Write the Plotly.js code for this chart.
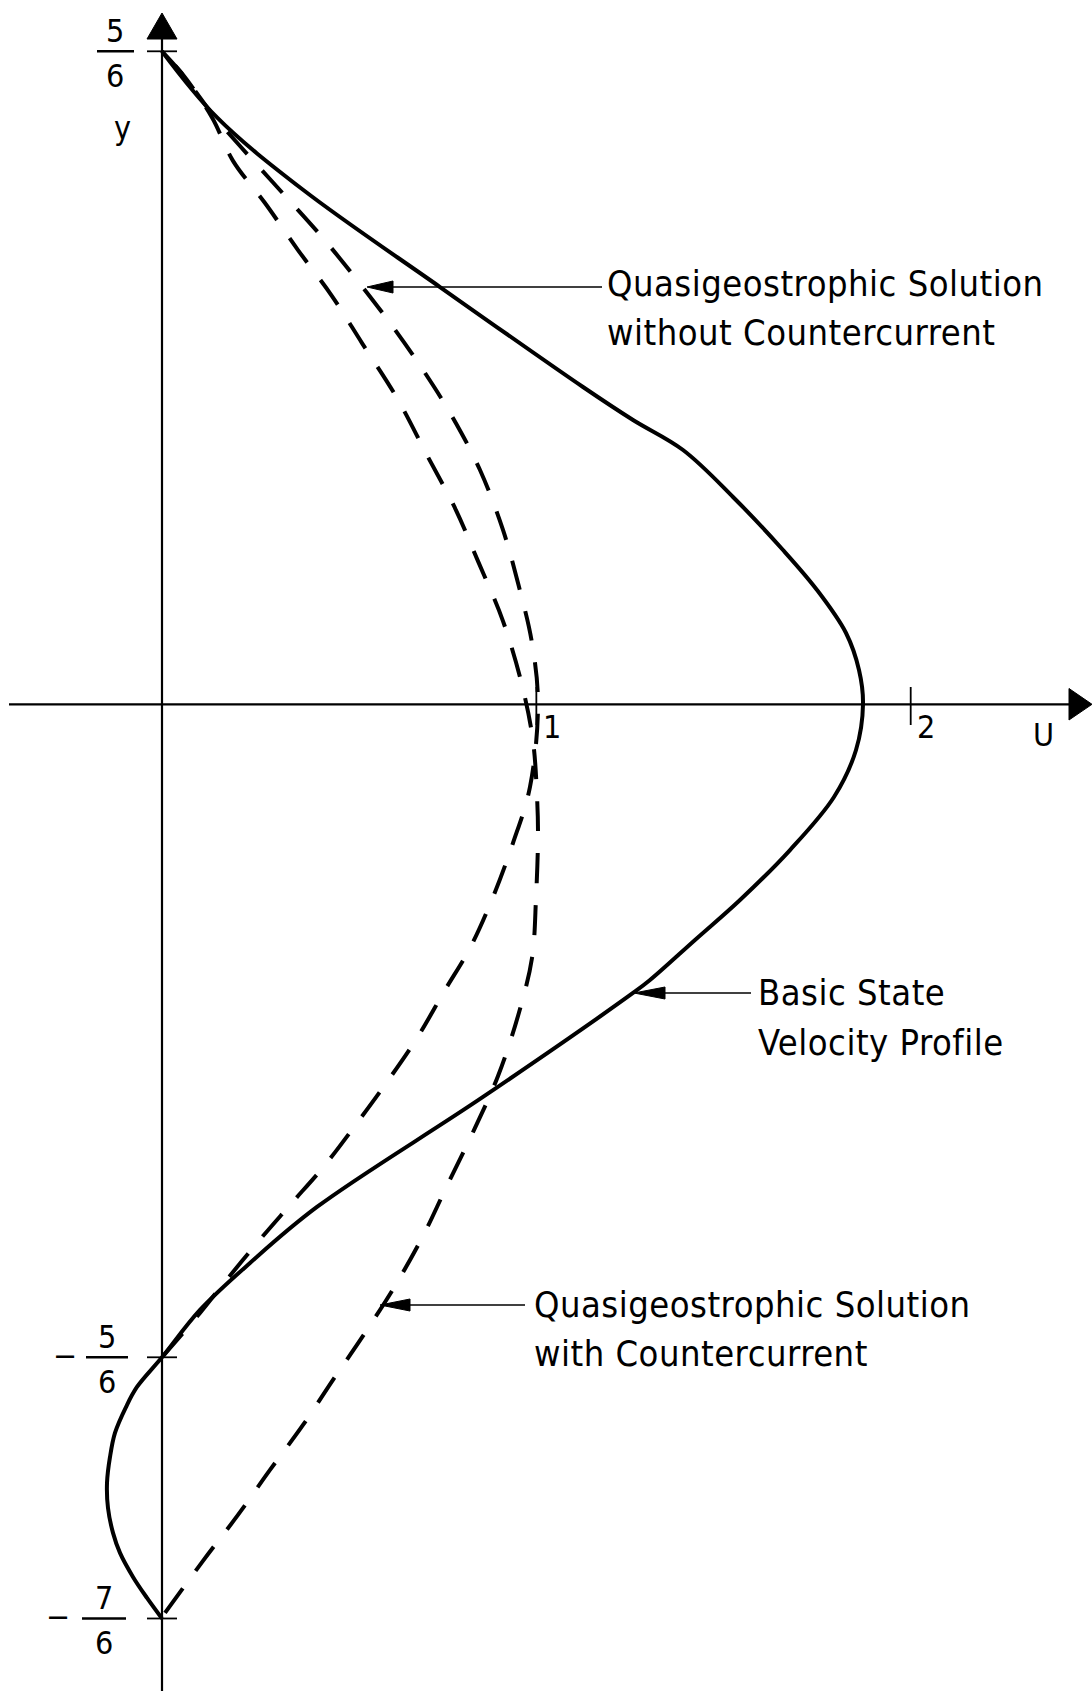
<!DOCTYPE html>
<html>
<head>
<meta charset="utf-8">
<script src="https://cdn.plot.ly/plotly-3.0.1.min.js"></script>
<style>
  html, body { margin: 0; padding: 0; background: #ffffff; }
  #chart { width: 1092px; height: 1691px; }
  .annotation-text { letter-spacing: 0.5px; }
</style>
</head>
<body>
<div id="chart"></div>
<script>
// Basic state velocity profile U(y)
const basicU = [0, 0.1469, 0.3767, 0.7426, 1.1246, 1.2582, 1.3918, 1.5253, 1.6589, 1.7497, 1.8272, 1.8619,
                1.8726, 1.8539, 1.7951, 1.6776, 1.5440, 1.4238, 1.3036, 1.2582, 0.8575, 0.4140, 0.2351, 0.1015,
                0, -0.0668, -0.0962, -0.1256, -0.1389, -0.1469, -0.1443, -0.1309, -0.1122, -0.0775, -0.0401, 0];
const basicY = [0.8333, 0.7489, 0.6566, 0.5325, 0.4049, 0.3628, 0.3245, 0.2646, 0.1969, 0.1459, 0.0910, 0.0438,
                0, -0.0583, -0.1183, -0.1860, -0.2498, -0.3008, -0.3519, -0.3684, -0.5011, -0.6415, -0.7130, -0.7729,
                -0.8333, -0.8712, -0.8968, -0.9298, -0.9605, -0.9936, -1.0255, -1.0574, -1.0830, -1.1136, -1.1404, -1.1667];

// Quasigeostrophic solution without countercurrent
const noCounterU = [0, 0.0561, 0.1416, 0.2084, 0.3099, 0.4274, 0.5209, 0.6091, 0.7026, 0.7773, 0.8495, 0.9109,
                    0.9510, 0.9884, 1.0044, 0.9830, 0.9376, 0.8842, 0.8228, 0.7560, 0.6812, 0.6010, 0.5209,
                    0.4354, 0.3419, 0.2538, 0.1549, 0.1015, 0];
const noCounterY = [0.8333, 0.8033, 0.7489, 0.7125, 0.6589, 0.5964, 0.5415, 0.4866, 0.4228, 0.3654, 0.2990, 0.2225,
                    0.1548, 0.0782, 0, -0.1055, -0.1770, -0.2459, -0.3110, -0.3646, -0.4259, -0.4820, -0.5344,
                    -0.5880, -0.6390, -0.6875, -0.7449, -0.7768, -0.8333];

// Quasigeostrophic solution with countercurrent
const counterU = [0, 0.0561, 0.1336, 0.1897, 0.2751, 0.3633, 0.4541, 0.5343, 0.6278, 0.7079, 0.7827, 0.8441,
                  0.9109, 0.9617, 0.9911, 1.0017, 1.0044, 0.9991, 0.9884, 0.9510, 0.8976, 0.8361, 0.7560, 0.6972,
                  0.6224, 0.5369, 0.4568, 0.3767, 0.2885, 0.2030, 0.1095, 0.0080];
const counterY = [0.8333, 0.8033, 0.7489, 0.6935, 0.6397, 0.5797, 0.5210, 0.4610, 0.3908, 0.3180, 0.2504, 0.1827,
                  0.1062, 0.0245, -0.0470, -0.1169, -0.1667, -0.2471, -0.3237, -0.3977, -0.4743, -0.5406, -0.6198,
                  -0.6785, -0.7423, -0.8061, -0.8622, -0.9197, -0.9771, -1.0345, -1.0932, -1.1596];

// Axis ticks and their labels
const uTicks = [1, 2];
const uTickText = ['1', '2'];
const yTicks = [5 / 6, -5 / 6, -7 / 6];
const yTickSign = ['', '\u2212', '\u2212'];
const yTickNum = ['5', '5', '7'];
const yTickDen = ['6', '6', '6'];

// Curve captions
const captionsNoCounter = ['Quasigeostrophic Solution', 'without Countercurrent'];
const captionsBasic = ['Basic State', 'Velocity Profile'];
const captionsCounter = ['Quasigeostrophic Solution', 'with Countercurrent'];

// ---- page geometry ----
const W = 1092, H = 1691;
const xRange = [-0.43275, 2.48431];
const yRange = [-1.2592, 0.8988];
const pxU = W / (xRange[1] - xRange[0]);
const pxY = H / (yRange[1] - yRange[0]);
const xAt = px => xRange[0] + px / pxU;   // page pixel -> U
const yAt = py => yRange[1] - py / pxY;   // page pixel -> y

const INK = '#000000';
const textFamily = '"DejaVu Sans Condensed", "DejaVu Sans", sans-serif';
const captionFont = { family: textFamily, size: 36, color: INK };
const tickFont = { family: textFamily, size: 32, color: INK };
const curveLine = { color: INK, width: 4, shape: 'spline', smoothing: 1 };
const dashedLine = Object.assign({}, curveLine, { dash: '30px,22px' });

const traces = [
  { x: basicU, y: basicY, mode: 'lines', line: curveLine, hoverinfo: 'skip' },
  { x: noCounterU, y: noCounterY, mode: 'lines', line: dashedLine, hoverinfo: 'skip' },
  // drawn from its lower end so the dash pattern starts with a full dash at the axis
  { x: counterU.slice().reverse(), y: counterY.slice().reverse(), mode: 'lines', line: dashedLine, hoverinfo: 'skip' }
];

const shapes = [];
const annotations = [];
const line = (x0, y0, x1, y1, w) => shapes.push({ type: 'line', xref: 'x', yref: 'y', x0, y0, x1, y1, line: { color: INK, width: w } });
const tri = (pts) => shapes.push({
  type: 'path', xref: 'x', yref: 'y',
  path: 'M' + pts.map(p => p[0] + ',' + p[1]).join(' L') + ' Z',
  fillcolor: INK, line: { color: INK, width: 1 }
});

// U axis with arrow
line(xAt(9), 0, xAt(1070), 0, 2.2);
tri([[xAt(1069), yAt(688.5)], [xAt(1092), 0], [xAt(1069), yAt(720)]]);
// y axis with arrow
line(0, yRange[0], 0, yAt(38), 2.2);
tri([[xAt(147), yAt(39)], [0, yAt(13)], [xAt(177), yAt(39)]]);

// U ticks
uTicks.forEach((u, i) => {
  line(u, yAt(687), u, yAt(725), 1.8);
  annotations.push({ x: u, y: 0, xref: 'x', yref: 'y', text: uTickText[i], showarrow: false,
    xanchor: 'center', yanchor: 'middle', xshift: 16, yshift: -23, font: tickFont });
});

// y ticks with fraction labels
const fracCenter = [115.5, 107, 104];
const fracHalf = [18.5, 21, 22];
const signCenter = [0, 65.5, 58];
yTicks.forEach((v, i) => {
  line(xAt(147), v, xAt(177), v, 1.8);
  line(xAt(fracCenter[i] - fracHalf[i]), v, xAt(fracCenter[i] + fracHalf[i]), v, 2.6);
  annotations.push({ x: xAt(fracCenter[i]), y: v, xref: 'x', yref: 'y', text: yTickNum[i], showarrow: false,
    xanchor: 'center', yanchor: 'middle', yshift: 20, font: tickFont });
  annotations.push({ x: xAt(fracCenter[i]), y: v, xref: 'x', yref: 'y', text: yTickDen[i], showarrow: false,
    xanchor: 'center', yanchor: 'middle', yshift: -25, font: tickFont });
  if (yTickSign[i]) {
    annotations.push({ x: xAt(signCenter[i]), y: v, xref: 'x', yref: 'y', text: yTickSign[i], showarrow: false,
      xanchor: 'center', yanchor: 'middle', yshift: 1, font: tickFont });
  }
});

// axis names
annotations.push({ x: xAt(123), y: yAt(128), xref: 'x', yref: 'y', text: 'y', showarrow: false,
  xanchor: 'center', yanchor: 'middle', font: { family: textFamily, size: 32, color: INK } });
annotations.push({ x: xAt(1043.5), y: yAt(735), xref: 'x', yref: 'y', text: 'U', showarrow: false,
  xanchor: 'center', yanchor: 'middle', font: { family: textFamily, size: 32, color: INK } });

// caption with a pointer arrow: tip at (tipPx, rowPx), arrowhead back at basePx, leader to endPx
function caption(lines, tipPx, basePx, endPx, rowPx, textPx, linePx) {
  line(xAt(basePx - 2), yAt(rowPx), xAt(endPx), yAt(rowPx), 1.6);
  tri([[xAt(basePx), yAt(rowPx - 6)], [xAt(tipPx), yAt(rowPx)], [xAt(basePx), yAt(rowPx + 6)]]);
  lines.forEach((t, k) => {
    annotations.push({ x: xAt(textPx), y: yAt(linePx[k]), xref: 'x', yref: 'y', text: t, showarrow: false,
      xanchor: 'left', yanchor: 'middle', font: captionFont });
  });
}
caption(captionsNoCounter, 367, 393, 602, 287, 605, [283.5, 332]);
caption(captionsBasic, 634, 665, 751, 993, 756, [992, 1042]);
caption(captionsCounter, 380, 410, 525, 1305, 532, [1304, 1353]);

const layout = {
  width: W, height: H,
  margin: { l: 0, r: 0, t: 0, b: 0, pad: 0 },
  paper_bgcolor: '#ffffff', plot_bgcolor: '#ffffff',
  showlegend: false,
  xaxis: { range: xRange, visible: false, fixedrange: true },
  yaxis: { range: yRange, visible: false, fixedrange: true },
  shapes: shapes,
  annotations: annotations
};

Plotly.newPlot('chart', traces, layout, { displayModeBar: false, staticPlot: true });
</script>
</body>
</html>
